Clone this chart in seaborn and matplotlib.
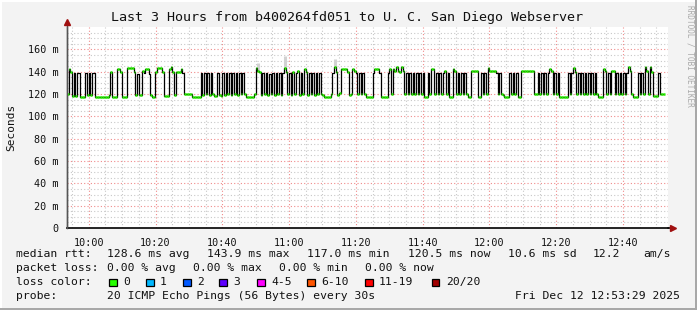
import numpy as np
import pandas as pd
import seaborn as sns
import matplotlib
matplotlib.use("Agg")
import matplotlib.pyplot as plt
from matplotlib.patches import Rectangle
from matplotlib.lines import Line2D

# ---------------- data (median rtt in ms, one sample every 30 s) ----------------
# 139 / 138 = short smoke spikes (drawn black), other values = median line (green)
median_ms = [
    120, 142, 140, 118, 139, 118, 139, 139, 117, 117,
    117, 139, 119, 139, 119, 139, 139, 117, 117, 117,
    117, 117, 117, 117, 117, 119, 140, 117, 117, 117,
    142, 142, 140, 117, 117, 117, 143, 143, 143, 143,
    140, 119, 138, 119, 119, 141, 139, 142, 142, 138,
    119, 117, 117, 140, 143, 143, 143, 140, 118, 118,
    118, 142, 144, 140, 119, 140, 140, 140, 142, 139,
    120, 120, 120, 120, 120, 117, 117, 117, 117, 117,
    139, 119, 139, 120, 139, 119, 139, 120, 118, 118,
    139, 119, 118, 139, 119, 139, 120, 139, 119, 139,
    120, 139, 119, 139, 120, 139, 120, 117, 117, 117,
    117, 117, 120, 143, 141, 140, 119, 139, 120, 139,
    119, 138, 120, 139, 119, 139, 120, 139, 119, 139,
    143, 140, 120, 139, 119, 140, 120, 139, 141, 119,
    139, 120, 142, 140, 119, 139, 120, 139, 119, 139,
    120, 139, 120, 119, 117, 117, 117, 117, 120, 139,
    144, 140, 119, 121, 142, 142, 142, 142, 140, 119,
    120, 142, 141, 139, 120, 139, 120, 139, 120, 117,
    117, 117, 117, 139, 142, 142, 142, 139, 117, 117,
    117, 117, 139, 142, 120, 142, 141, 144, 141, 140,
    144, 141, 120, 139, 120, 139, 120, 139, 120, 139,
    120, 139, 120, 139, 117, 117, 139, 120, 142, 142,
    120, 139, 120, 139, 120, 139, 141, 120, 139, 117,
    117, 142, 141, 120, 139, 120, 139, 120, 139, 120,
    117, 117, 141, 141, 141, 141, 117, 117, 139, 120,
    139, 120, 143, 141, 141, 141, 141, 139, 120, 139,
    120, 119, 117, 117, 117, 139, 120, 139, 120, 139,
    117, 117, 141, 141, 141, 141, 141, 141, 141, 141,
    120, 120, 139, 120, 139, 120, 139, 120, 139, 142,
    141, 120, 139, 120, 139, 117, 117, 117, 117, 117,
    139, 120, 139, 143, 140, 120, 139, 120, 139, 120,
    139, 120, 139, 120, 139, 120, 139, 120, 117, 117,
    117, 142, 141, 120, 139, 120, 141, 141, 120, 139,
    120, 139, 120, 139, 120, 139, 144, 141, 120, 117,
    117, 117, 139, 120, 139, 120, 144, 141, 120, 144,
    140, 118, 118, 118, 139, 120, 120, 120,
]
spike_levels = [138, 139]
sample_step_min = 0.5
start_minute = 53 + 29 / 60.0          # minutes after 09:00 (09:53:29)
span_minutes = 180

smoke_index = [114, 130, 160]
smoke_top_ms = [148, 154, 151]

xtick_minutes = [60, 80, 100, 120, 140, 160, 180, 200, 220]
xtick_labels = ["10:00", "10:20", "10:40", "11:00", "11:20", "11:40", "12:00", "12:20", "12:40"]
ytick_values = [0, 20, 40, 60, 80, 100, 120, 140, 160]
ytick_labels = ["0", "20 m", "40 m", "60 m", "80 m", "100 m", "120 m", "140 m", "160 m"]

loss_labels = ["0", "1", "2", "3", "4-5", "6-10", "11-19", "20/20"]
loss_colors = ["#26ff00", "#00b8ff", "#0059ff", "#5e00ff", "#ff00ff", "#ff5500", "#ff0000", "#a10000"]

# ---------------- figure ----------------
sns.set_theme(style="white")
plt.rcParams["font.family"] = ["DejaVu Sans Mono"]

W, H = 697, 310
fig = plt.figure(figsize=(W / 100, H / 100), dpi=100, facecolor="#f3f3f3")


def fx(px):
    return px / W


def fy(py):
    return 1 - py / H


left, right, top, bottom = 67, 668, 27, 228
ax = fig.add_axes([fx(left), fy(bottom), fx(right - left), (bottom - top) / H])
ax.set_facecolor("white")

t0 = start_minute
ax.set_xlim(t0, t0 + span_minutes)
ax.set_ylim(0, 180)

# grid
minor_x = np.arange(55, t0 + span_minutes, 5)
minor_y = np.arange(5, 180, 5)
ax.set_xticks(xtick_minutes)
ax.set_xticklabels(xtick_labels)
ax.set_xticks(minor_x, minor=True)
ax.set_yticks(ytick_values)
ax.set_yticklabels(ytick_labels)
ax.set_yticks(minor_y, minor=True)
ax.grid(which="minor", color="#c8c8c8", linestyle=(0, (1, 2)), linewidth=0.8)
ax.grid(which="major", color="#f08a8a", linestyle=(0, (1, 2)), linewidth=0.8)
ax.set_axisbelow(True)

ax.tick_params(axis="both", which="major", labelsize=7.3, length=3, width=0.8,
               color="#222222", pad=3, labelcolor="#111111")
ax.tick_params(axis="both", which="minor", length=2, width=0.6, color="#444444")
ax.tick_params(axis="x", which="major", pad=4)

for s in ["top", "right"]:
    ax.spines[s].set_visible(False)
ax.spines["left"].set_color("#555555")
ax.spines["left"].set_linewidth(1.0)
ax.spines["bottom"].set_color("#000000")
ax.spines["bottom"].set_linewidth(1.2)

# data
times = t0 + sample_step_min * np.arange(len(median_ms))
df = pd.DataFrame({"t": times, "ms": median_ms})

# smoke
for i, top_ms in zip(smoke_index, smoke_top_ms):
    ax.vlines(times[i] + 0.25, median_ms[i], top_ms, colors="#d2d2d2", linewidth=2.2, zorder=2)

sns.lineplot(data=df, x="t", y="ms", drawstyle="steps-post", color="#000000",
             linewidth=0.9, ax=ax, zorder=3, legend=False)
green = df[~df["ms"].isin(spike_levels)]
ax.hlines(green["ms"], green["t"], green["t"] + sample_step_min, colors="#26ee00",
          linewidth=1.8, zorder=4)
ax.set_xlabel("")
ax.set_ylabel("")

# axis extensions and arrows
fig.add_artist(Line2D([fx(left), fx(left)], [fy(bottom), fy(24)], color="#555555", lw=1.0))
fig.add_artist(Line2D([fx(right), fx(671)], [fy(bottom), fy(bottom)], color="#000000", lw=1.2))
fig.add_artist(Line2D([fx(left)], [fy(22)], marker="^", markersize=4.5, color="#a01010", lw=0))
fig.add_artist(Line2D([fx(673)], [fy(bottom)], marker=">", markersize=4.5, color="#a01010", lw=0))

# title and labels
fig.text(fx(347), fy(18), "Last 3 Hours from b400264fd051 to U. C. San Diego Webserver",
         ha="center", va="center", fontsize=9.6, color="#111111")
fig.text(fx(11), fy(127), "Seconds", rotation=90, ha="center", va="center",
         fontsize=8, color="#111111")
fig.text(fx(690), fy(5), "RRDTOOL / TOBI OETIKER", rotation=270, ha="center", va="top",
         fontsize=5.6, color="#aaaaaa")

# legend text
lfs = 8.2
line1 = [("median rtt:", 16), ("128.6 ms avg", 107), ("143.9 ms max", 207), ("117.0 ms min", 307),
         ("120.5 ms now", 408), ("10.6 ms sd", 508), ("12.2", 593), ("am/s", 643)]
line2 = [("packet loss:", 16), ("0.00 % avg", 107), ("0.00 % max", 193), ("0.00 % min", 279),
         ("0.00 % now", 365)]
for items, yy in [(line1, 254), (line2, 268)]:
    for txt, xx in items:
        fig.text(fx(xx), fy(yy), txt, ha="left", va="center", fontsize=lfs, color="#111111")

fig.text(fx(16), fy(282), "loss color:", ha="left", va="center", fontsize=lfs, color="#111111")
box_x = [109, 146, 183, 219, 257, 307, 365, 432]
for bx, lab, col in zip(box_x, loss_labels, loss_colors):
    fig.add_artist(Rectangle((fx(bx), fy(286)), 7.5 / W, 7.5 / H, facecolor=col,
                             edgecolor="#000000", linewidth=0.9, transform=fig.transFigure))
    fig.text(fx(bx + 14), fy(282), lab, ha="left", va="center", fontsize=lfs, color="#111111")

fig.text(fx(16), fy(296), "probe:", ha="left", va="center", fontsize=lfs, color="#111111")
fig.text(fx(107), fy(296), "20 ICMP Echo Pings (56 Bytes) every 30s", ha="left", va="center",
         fontsize=lfs, color="#111111")
fig.text(fx(680), fy(296), "Fri Dec 12 12:53:29 2025", ha="right", va="center",
         fontsize=lfs, color="#111111")

# bevelled frame
fig.add_artist(Rectangle((0, 0), 1, 2 / H, facecolor="#a8a8a8", edgecolor="none", transform=fig.transFigure))
fig.add_artist(Rectangle((1 - 2 / W, 0), 2 / W, 1, facecolor="#a8a8a8", edgecolor="none", transform=fig.transFigure))
fig.add_artist(Rectangle((0, 1 - 2 / H), 1 - 2 / W, 2 / H, facecolor="#ffffff", edgecolor="none", transform=fig.transFigure))
fig.add_artist(Rectangle((0, 2 / H), 2 / W, 1 - 2 / H, facecolor="#ffffff", edgecolor="none", transform=fig.transFigure))

fig.savefig("out.png", dpi=100, facecolor=fig.get_facecolor())
